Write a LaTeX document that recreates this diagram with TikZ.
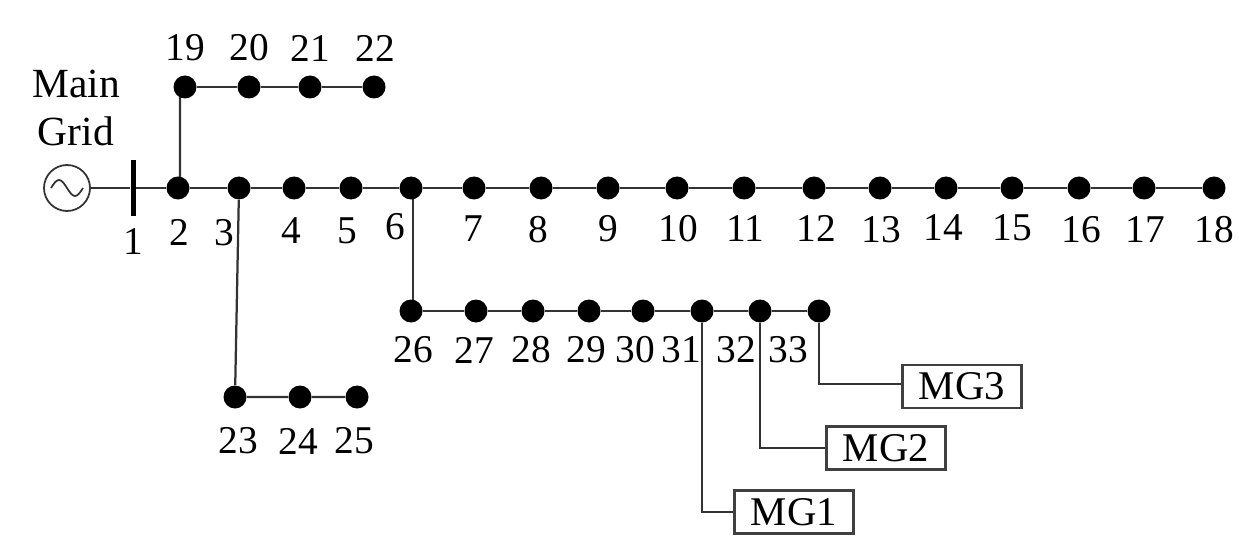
\documentclass[tikz,border=0pt]{standalone}
\usepackage{fontspec}
\setmainfont{Liberation Serif}
\usetikzlibrary{positioning, backgrounds}
\tikzset{
  bus/.style={circle, fill=black, inner sep=0pt, minimum size=0.46cm},
  busbar/.style={rectangle, fill=black, inner sep=0pt, minimum width=0.1cm, minimum height=1.1cm},
  source/.style={circle, draw=black!80, line width=0.035cm, inner sep=0pt, minimum size=0.92cm},
  num/.style={inner sep=0pt, font=\fontsize{22.4}{27}\selectfont},
  mgbox/.style={draw=black!75, line width=0.045cm, inner sep=0pt, minimum width=2.38cm, minimum height=0.86cm, font=\fontsize{23.2}{27}\selectfont},
  wire/.style={draw=black!80, line width=0.045cm}
}
\begin{document}
\begin{tikzpicture}[on grid]
\useasboundingbox (0,0) rectangle (24.78,-11.12);

%% main feeder
\node[bus] (b2) at (3.56,-3.76) {};
\node[busbar, left=0.9cm of b2] (b1) {};
\node[source, left=1.32cm of b1] (gen) {};
\node[bus, right=1.22cm of b2] (b3) {};
\node[bus, right=1.10cm of b3] (b4) {};
\node[bus, right=1.14cm of b4] (b5) {};
\node[bus, right=1.20cm of b5] (b6) {};
\node[bus, right=1.26cm of b6] (b7) {};
\node[bus, right=1.34cm of b7] (b8) {};
\node[bus, right=1.34cm of b8] (b9) {};
\node[bus, right=1.38cm of b9] (b10) {};
\node[bus, right=1.34cm of b10] (b11) {};
\node[bus, right=1.40cm of b11] (b12) {};
\node[bus, right=1.32cm of b12] (b13) {};
\node[bus, right=1.32cm of b13] (b14) {};
\node[bus, right=1.32cm of b14] (b15) {};
\node[bus, right=1.34cm of b15] (b16) {};
\node[bus, right=1.30cm of b16] (b17) {};
\node[bus, right=1.40cm of b17] (b18) {};

%% upper branch
\node[bus, above right=2.02cm and 0.14cm of b2] (b19) {};
\node[bus, right=1.28cm of b19] (b20) {};
\node[bus, right=1.22cm of b20] (b21) {};
\node[bus, right=1.28cm of b21] (b22) {};

%% lower branch
\node[bus, below left=4.18cm and 0.08cm of b3] (b23) {};
\node[bus, right=1.30cm of b23] (b24) {};
\node[bus, right=1.14cm of b24] (b25) {};

%% middle branch
\node[bus, below=2.46cm of b6] (b26) {};
\node[bus, right=1.30cm of b26] (b27) {};
\node[bus, right=1.14cm of b27] (b28) {};
\node[bus, right=1.12cm of b28] (b29) {};
\node[bus, right=1.08cm of b29] (b30) {};
\node[bus, right=1.18cm of b30] (b31) {};
\node[bus, right=1.16cm of b31] (b32) {};
\node[bus, right=1.18cm of b32] (b33) {};

%% microgrids
\node[mgbox, below right=1.51cm and 2.86cm of b33] (mg3) {MG3};
\node[mgbox, below right=2.74cm and 2.52cm of b32] (mg2) {MG2};
\node[mgbox, below right=4.02cm and 1.84cm of b31] (mg1) {MG1};

%% labels
\node[num, above right=1.6cm and 0.18cm of gen, align=center, font=\fontsize{23.6}{27.2}\selectfont] (grid) {Main\\Grid};
\node[num, below=1.07cm of b1] (n1) {1};
\node[num, below=0.88cm of b2, xshift=0.02cm] (n2) {2};
\node[num, below=0.90cm of b3, xshift=-0.30cm] (n3) {3};
\node[num, below=0.86cm of b4, xshift=-0.06cm] (n4) {4};
\node[num, below=0.86cm of b5, xshift=-0.08cm] (n5) {5};
\node[num, below=0.78cm of b6, xshift=-0.32cm] (n6) {6};
\node[num, below=0.82cm of b7, xshift=-0.02cm] (n7) {7};
\node[num, below=0.84cm of b8, xshift=-0.06cm] (n8) {8};
\node[num, below=0.82cm of b9] (n9) {9};
\node[num, below=0.82cm of b10, xshift=0.02cm] (n10) {10};
\node[num, below=0.82cm of b11, xshift=0.02cm] (n11) {11};
\node[num, below=0.80cm of b12, xshift=0.04cm] (n12) {12};
\node[num, below=0.84cm of b13, xshift=0.02cm] (n13) {13};
\node[num, below=0.80cm of b14, xshift=-0.06cm] (n14) {14};
\node[num, below=0.80cm of b15] (n15) {15};
\node[num, below=0.84cm of b16, xshift=0.04cm] (n16) {16};
\node[num, below=0.84cm of b17, xshift=0.02cm] (n17) {17};
\node[num, below=0.84cm of b18] (n18) {18};
\node[num, above=0.78cm of b19] (n19) {19};
\node[num, above=0.78cm of b20] (n20) {20};
\node[num, above=0.78cm of b21] (n21) {21};
\node[num, above=0.78cm of b22, xshift=0.02cm] (n22) {22};
\node[num, below=0.88cm of b23, xshift=0.06cm] (n23) {23};
\node[num, below=0.88cm of b24, xshift=-0.04cm] (n24) {24};
\node[num, below=0.88cm of b25, xshift=-0.06cm] (n25) {25};
\node[num, below=0.78cm of b26, xshift=0.04cm] (n26) {26};
\node[num, below=0.78cm of b27, xshift=-0.04cm] (n27) {27};
\node[num, below=0.78cm of b28, xshift=-0.04cm] (n28) {28};
\node[num, below=0.78cm of b29, xshift=-0.06cm] (n29) {29};
\node[num, below=0.78cm of b30, xshift=-0.16cm] (n30) {30};
\node[num, below=0.78cm of b31, xshift=-0.42cm] (n31) {31};
\node[num, below=0.78cm of b32, xshift=-0.48cm] (n32) {32};
\node[num, below=0.78cm of b33, xshift=-0.62cm] (n33) {33};

%% generator symbol
\draw[wire, line width=0.035cm] (gen.center) ++(-0.32,0) sin ++(0.16,0.16) cos ++(0.16,-0.16) sin ++(0.16,-0.16) cos ++(0.16,0.16);

%% lines
\begin{scope}[on background layer]
\draw[wire] (gen) -- (b1) -- (b2) -- (b3) -- (b4) -- (b5) -- (b6) -- (b7) -- (b8) -- (b9) -- (b10) -- (b11) -- (b12) -- (b13) -- (b14) -- (b15) -- (b16) -- (b17) -- (b18);
\draw[wire] ([xshift=0.04cm]b2.center) -- ([xshift=-0.10cm]b19.center);
\draw[wire] (b19) -- (b20) -- (b21) -- (b22);
\draw[wire] (b3) -- (b23) -- (b24) -- (b25);
\draw[wire] ([xshift=0.04cm]b6.center) -- ([xshift=0.04cm]b26.center);
\draw[wire] (b26) -- (b27) -- (b28) -- (b29) -- (b30) -- (b31) -- (b32) -- (b33);
\draw[wire] (b33) |- ([yshift=0.05cm]mg3.west);
\draw[wire] (b32) |- (mg2);
\draw[wire] (b31) |- (mg1);
\end{scope}
\end{tikzpicture}
\end{document}
